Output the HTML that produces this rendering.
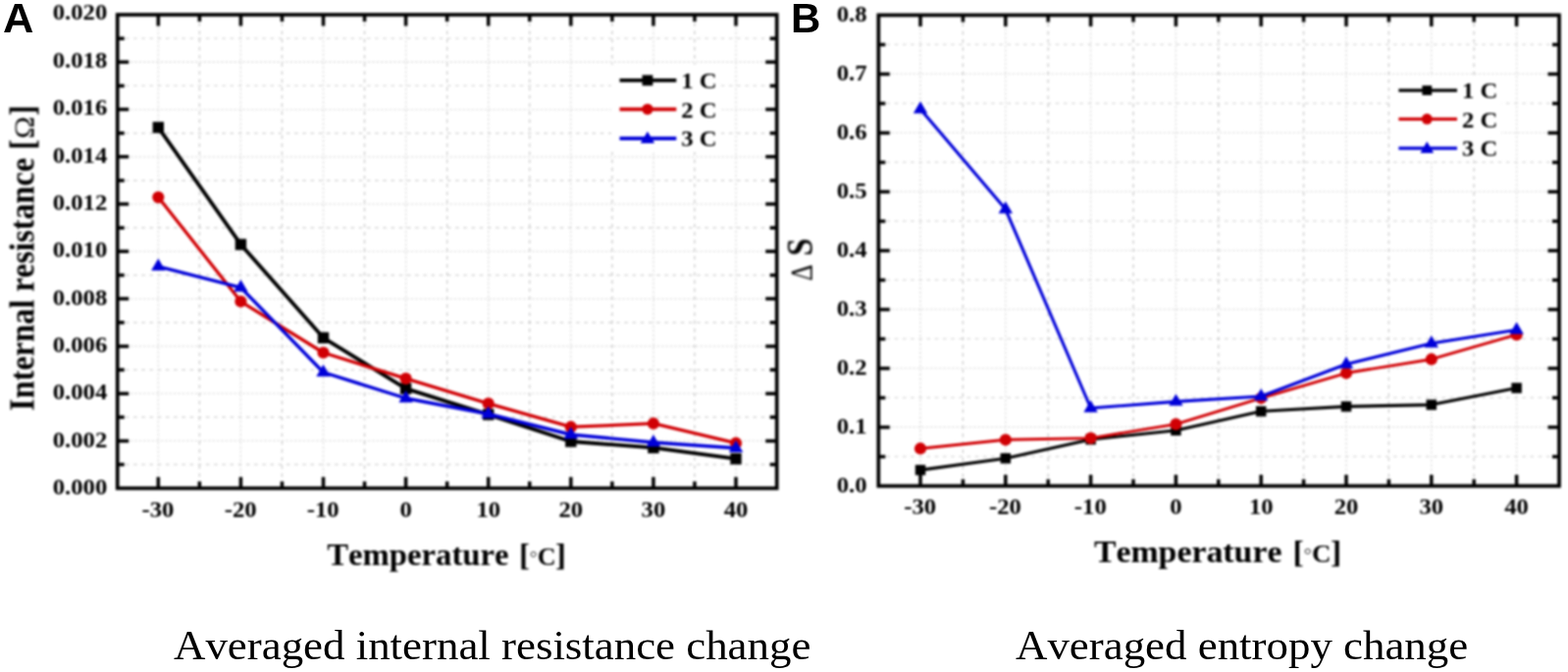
<!DOCTYPE html>
<html lang="en">
<head>
<meta charset="utf-8">
<title>Averaged internal resistance and entropy change</title>
<style>
html,body{margin:0;padding:0;background:#fff;}
body{width:1598px;height:685px;position:relative;overflow:hidden;}
#fig{position:absolute;left:0;top:0;width:1598px;height:685px;display:block;}
#plots{filter:blur(0.8px);}
.gmaj{fill:none;stroke:#dedede;stroke-width:1.3;stroke-dasharray:2.4 2;}
.gmin{fill:none;stroke:#d6d6d6;stroke-width:1.4;stroke-dasharray:3.6 4.6;}
.gminv{stroke:#cccccc;}
.tick{fill:none;stroke:#000;stroke-width:3.5;stroke-linecap:butt;}
.frame{fill:none;stroke:#000;stroke-width:3.7;}
.ln{fill:none;stroke-linejoin:round;stroke-linecap:butt;}
.lg{stroke-width:3.6;}
text{font-family:"Liberation Serif", serif;fill:#000;font-kerning:none;}
.t24{font-size:23.6px;font-weight:bold;}
.t32{font-size:32px;font-weight:bold;}
.panel{position:absolute;font-family:"Liberation Sans", sans-serif;font-weight:bold;font-size:41.8px;line-height:1;color:#000;margin:0;transform:scaleX(1.04);transform-origin:0 0;}
.cap{position:absolute;font-family:"Liberation Serif", serif;font-size:43px;line-height:1;color:#000;white-space:nowrap;margin:0;font-kerning:none;font-weight:normal;transform:scaleX(1.044);transform-origin:0 0;}
</style>
</head>
<body>
<svg id="fig" width="1598" height="685" viewBox="0 0 1598 685">
<rect width="1598" height="685" fill="#fff"/>
<g id="plots">
<g id="chartA">
<path class="gmaj" d="M161.3 15V497.7M245.4 15V497.7M329.5 15V497.7M413.6 15V497.7M497.7 15V497.7M581.8 15V497.7M665.9 15V497.7M750 15V497.7M119.7 449.43H791.7M119.7 401.16H791.7M119.7 352.89H791.7M119.7 304.62H791.7M119.7 256.35H791.7M119.7 208.08H791.7M119.7 159.81H791.7M119.7 111.54H791.7M119.7 63.27H791.7"/>
<path class="gmin" d="M119.7 473.56H791.7M119.7 425.29H791.7M119.7 377.02H791.7M119.7 328.75H791.7M119.7 280.49H791.7M119.7 232.22H791.7M119.7 183.94H791.7M119.7 135.68H791.7M119.7 87.41H791.7M119.7 39.14H791.7"/>
<path class="gmin gminv" d="M203.35 15V497.7M287.45 15V497.7M371.55 15V497.7M455.65 15V497.7M539.75 15V497.7M623.85 15V497.7M707.95 15V497.7"/>
<rect x="623" y="66" width="112" height="89" fill="#fff"/>
<path class="tick" d="M161.3 497.7v-11.5M161.3 15v11.5M203.35 497.7v-7M203.35 15v7M245.4 497.7v-11.5M245.4 15v11.5M287.45 497.7v-7M287.45 15v7M329.5 497.7v-11.5M329.5 15v11.5M371.55 497.7v-7M371.55 15v7M413.6 497.7v-11.5M413.6 15v11.5M455.65 497.7v-7M455.65 15v7M497.7 497.7v-11.5M497.7 15v11.5M539.75 497.7v-7M539.75 15v7M581.8 497.7v-11.5M581.8 15v11.5M623.85 497.7v-7M623.85 15v7M665.9 497.7v-11.5M665.9 15v11.5M707.95 497.7v-7M707.95 15v7M750 497.7v-11.5M750 15v11.5M119.7 473.56h7M791.7 473.56h-7M119.7 449.43h11.5M791.7 449.43h-11.5M119.7 425.29h7M791.7 425.29h-7M119.7 401.16h11.5M791.7 401.16h-11.5M119.7 377.02h7M791.7 377.02h-7M119.7 352.89h11.5M791.7 352.89h-11.5M119.7 328.75h7M791.7 328.75h-7M119.7 304.62h11.5M791.7 304.62h-11.5M119.7 280.49h7M791.7 280.49h-7M119.7 256.35h11.5M791.7 256.35h-11.5M119.7 232.22h7M791.7 232.22h-7M119.7 208.08h11.5M791.7 208.08h-11.5M119.7 183.94h7M791.7 183.94h-7M119.7 159.81h11.5M791.7 159.81h-11.5M119.7 135.68h7M791.7 135.68h-7M119.7 111.54h11.5M791.7 111.54h-11.5M119.7 87.41h7M791.7 87.41h-7M119.7 63.27h11.5M791.7 63.27h-11.5M119.7 39.14h7M791.7 39.14h-7"/>
<rect class="frame" x="119.7" y="15" width="672" height="482.7"/>
<polyline class="ln" stroke="#000000" stroke-width="3.8" points="161.3,129.9 245.4,249.2 329.5,344.3 413.6,396.1 497.7,422.6 581.8,450 665.9,456.4 750,467.7"/>
<rect x="155.6" y="124.2" width="11.4" height="11.4" fill="#000000"/>
<rect x="239.7" y="243.5" width="11.4" height="11.4" fill="#000000"/>
<rect x="323.8" y="338.6" width="11.4" height="11.4" fill="#000000"/>
<rect x="407.9" y="390.4" width="11.4" height="11.4" fill="#000000"/>
<rect x="492" y="416.9" width="11.4" height="11.4" fill="#000000"/>
<rect x="576.1" y="444.3" width="11.4" height="11.4" fill="#000000"/>
<rect x="660.2" y="450.7" width="11.4" height="11.4" fill="#000000"/>
<rect x="744.3" y="462" width="11.4" height="11.4" fill="#000000"/>
<polyline class="ln" stroke="#d00004" stroke-width="3.3" points="161.3,201.1 245.4,307.3 329.5,359.5 413.6,385.9 497.7,411.4 581.8,435.2 665.9,431.7 750,451.7"/>
<circle cx="161.3" cy="201.1" r="6.1" fill="#d00004"/>
<circle cx="245.4" cy="307.3" r="6.1" fill="#d00004"/>
<circle cx="329.5" cy="359.5" r="6.1" fill="#d00004"/>
<circle cx="413.6" cy="385.9" r="6.1" fill="#d00004"/>
<circle cx="497.7" cy="411.4" r="6.1" fill="#d00004"/>
<circle cx="581.8" cy="435.2" r="6.1" fill="#d00004"/>
<circle cx="665.9" cy="431.7" r="6.1" fill="#d00004"/>
<circle cx="750" cy="451.7" r="6.1" fill="#d00004"/>
<polyline class="ln" stroke="#0000d8" stroke-width="3.4" points="161.3,271.6 245.4,293.1 329.5,379.5 413.6,406 497.7,422 581.8,443 665.9,451 750,456.8"/>
<path d="M161.3 263.6L168.5 275.8L154.1 275.8Z" fill="#0000d8"/>
<path d="M245.4 285.1L252.6 297.3L238.2 297.3Z" fill="#0000d8"/>
<path d="M329.5 371.5L336.7 383.7L322.3 383.7Z" fill="#0000d8"/>
<path d="M413.6 398L420.8 410.2L406.4 410.2Z" fill="#0000d8"/>
<path d="M497.7 414L504.9 426.2L490.5 426.2Z" fill="#0000d8"/>
<path d="M581.8 435L589 447.2L574.6 447.2Z" fill="#0000d8"/>
<path d="M665.9 443L673.1 455.2L658.7 455.2Z" fill="#0000d8"/>
<path d="M750 448.8L757.2 461L742.8 461Z" fill="#0000d8"/>
<path class="ln" stroke="#000000" stroke-width="3.7" d="M631.5 81.9H689.3"/>
<rect x="654.49" y="76.48" width="10.83" height="10.83" fill="#000000"/>
<text class="t24" transform="translate(694.2 90.3) scale(1.045 1)">1 C</text>
<path class="ln" stroke="#d00004" stroke-width="3.7" d="M631.5 111.3H689.3"/>
<circle cx="659.9" cy="111.3" r="5.67" fill="#d00004"/>
<text class="t24" transform="translate(694.2 120) scale(1.045 1)">2 C</text>
<path class="ln" stroke="#0000d8" stroke-width="3.7" d="M631.5 141.1H689.3"/>
<path d="M659.9 133.9L667.1 146.1L652.7 146.1Z" fill="#0000d8"/>
<text class="t24" transform="translate(694.2 149.3) scale(1.045 1)">3 C</text>
<text class="t24" text-anchor="end" transform="translate(109.2 504.2) scale(1.045 1)">0.000</text>
<text class="t24" text-anchor="end" transform="translate(109.2 455.82) scale(1.045 1)">0.002</text>
<text class="t24" text-anchor="end" transform="translate(109.2 407.44) scale(1.045 1)">0.004</text>
<text class="t24" text-anchor="end" transform="translate(109.2 359.06) scale(1.045 1)">0.006</text>
<text class="t24" text-anchor="end" transform="translate(109.2 310.68) scale(1.045 1)">0.008</text>
<text class="t24" text-anchor="end" transform="translate(109.2 262.3) scale(1.045 1)">0.010</text>
<text class="t24" text-anchor="end" transform="translate(109.2 213.92) scale(1.045 1)">0.012</text>
<text class="t24" text-anchor="end" transform="translate(109.2 165.54) scale(1.045 1)">0.014</text>
<text class="t24" text-anchor="end" transform="translate(109.2 117.16) scale(1.045 1)">0.016</text>
<text class="t24" text-anchor="end" transform="translate(109.2 68.78) scale(1.045 1)">0.018</text>
<text class="t24" text-anchor="end" transform="translate(109.2 20.4) scale(1.045 1)">0.020</text>
<text class="t24" text-anchor="middle" transform="translate(161 526.5) scale(1.045 1)">-30</text>
<text class="t24" text-anchor="middle" transform="translate(245.1 526.5) scale(1.045 1)">-20</text>
<text class="t24" text-anchor="middle" transform="translate(329.2 526.5) scale(1.045 1)">-10</text>
<text class="t24" text-anchor="middle" transform="translate(413.6 526.5) scale(1.045 1)">0</text>
<text class="t24" text-anchor="middle" transform="translate(497.7 526.5) scale(1.045 1)">10</text>
<text class="t24" text-anchor="middle" transform="translate(581.8 526.5) scale(1.045 1)">20</text>
<text class="t24" text-anchor="middle" transform="translate(665.9 526.5) scale(1.045 1)">30</text>
<text class="t24" text-anchor="middle" transform="translate(750 526.5) scale(1.045 1)">40</text>
<text class="t32" text-anchor="middle" transform="translate(34.2 263) rotate(-90) scale(1.012 1.09)" x="0" y="0">Internal resistance [<tspan font-weight="normal" font-size="26.5" textLength="22.6" lengthAdjust="spacingAndGlyphs" dx="0.6">Ω</tspan><tspan dx="0.6">]</tspan></text>
<text class="t32" transform="translate(333.3 575.6) scale(1.022 1)">Temperature<tspan dx="2.2"> [</tspan><tspan font-weight="normal" font-size="19" fill="#333" dy="-1" dx="0">°</tspan><tspan font-size="25.5" dy="1" dx="0.2">C</tspan><tspan dx="-0.6">]</tspan></text>
</g>
<g id="chartB">
<path class="gmaj" d="M938 15.4V495.4M1024.8 15.4V495.4M1111.6 15.4V495.4M1198.4 15.4V495.4M1285.2 15.4V495.4M1372 15.4V495.4M1458.8 15.4V495.4M1545.6 15.4V495.4M895.3 435.4H1589M895.3 375.4H1589M895.3 315.4H1589M895.3 255.4H1589M895.3 195.4H1589M895.3 135.4H1589M895.3 75.4H1589"/>
<path class="gmin" d="M895.3 465.4H1589M895.3 405.4H1589M895.3 345.4H1589M895.3 285.4H1589M895.3 225.4H1589M895.3 165.4H1589M895.3 105.4H1589M895.3 45.4H1589"/>
<path class="gmin gminv" d="M981.4 15.4V495.4M1068.2 15.4V495.4M1155 15.4V495.4M1241.8 15.4V495.4M1328.6 15.4V495.4M1415.4 15.4V495.4M1502.2 15.4V495.4"/>
<rect x="1417.5" y="77.5" width="112.5" height="86" fill="#fff"/>
<path class="tick" d="M938 495.4v-11.5M938 15.4v11.5M981.4 495.4v-7M981.4 15.4v7M1024.8 495.4v-11.5M1024.8 15.4v11.5M1068.2 495.4v-7M1068.2 15.4v7M1111.6 495.4v-11.5M1111.6 15.4v11.5M1155 495.4v-7M1155 15.4v7M1198.4 495.4v-11.5M1198.4 15.4v11.5M1241.8 495.4v-7M1241.8 15.4v7M1285.2 495.4v-11.5M1285.2 15.4v11.5M1328.6 495.4v-7M1328.6 15.4v7M1372 495.4v-11.5M1372 15.4v11.5M1415.4 495.4v-7M1415.4 15.4v7M1458.8 495.4v-11.5M1458.8 15.4v11.5M1502.2 495.4v-7M1502.2 15.4v7M1545.6 495.4v-11.5M1545.6 15.4v11.5M895.3 465.4h7M1589 465.4h-7M895.3 435.4h11.5M1589 435.4h-11.5M895.3 405.4h7M1589 405.4h-7M895.3 375.4h11.5M1589 375.4h-11.5M895.3 345.4h7M1589 345.4h-7M895.3 315.4h11.5M1589 315.4h-11.5M895.3 285.4h7M1589 285.4h-7M895.3 255.4h11.5M1589 255.4h-11.5M895.3 225.4h7M1589 225.4h-7M895.3 195.4h11.5M1589 195.4h-11.5M895.3 165.4h7M1589 165.4h-7M895.3 135.4h11.5M1589 135.4h-11.5M895.3 105.4h7M1589 105.4h-7M895.3 75.4h11.5M1589 75.4h-11.5M895.3 45.4h7M1589 45.4h-7"/>
<rect class="frame" x="895.3" y="15.4" width="693.7" height="480"/>
<polyline class="ln" stroke="#000000" stroke-width="3.1" points="938,479.1 1024.8,467.2 1111.6,448 1198.4,438.7 1285.2,419.3 1372,414.4 1458.8,412.6 1545.6,395.5"/>
<rect x="932.76" y="473.86" width="10.49" height="10.49" fill="#000000"/>
<rect x="1019.56" y="461.96" width="10.49" height="10.49" fill="#000000"/>
<rect x="1106.36" y="442.76" width="10.49" height="10.49" fill="#000000"/>
<rect x="1193.16" y="433.46" width="10.49" height="10.49" fill="#000000"/>
<rect x="1279.96" y="414.06" width="10.49" height="10.49" fill="#000000"/>
<rect x="1366.76" y="409.16" width="10.49" height="10.49" fill="#000000"/>
<rect x="1453.56" y="407.36" width="10.49" height="10.49" fill="#000000"/>
<rect x="1540.36" y="390.26" width="10.49" height="10.49" fill="#000000"/>
<polyline class="ln" stroke="#d00004" stroke-width="2.9" points="938,457.2 1024.8,448.3 1111.6,446.6 1198.4,432.4 1285.2,405.8 1372,380.3 1458.8,366.2 1545.6,341.2"/>
<circle cx="938" cy="457.2" r="6.1" fill="#d00004"/>
<circle cx="1024.8" cy="448.3" r="6.1" fill="#d00004"/>
<circle cx="1111.6" cy="446.6" r="6.1" fill="#d00004"/>
<circle cx="1198.4" cy="432.4" r="6.1" fill="#d00004"/>
<circle cx="1285.2" cy="405.8" r="6.1" fill="#d00004"/>
<circle cx="1372" cy="380.3" r="6.1" fill="#d00004"/>
<circle cx="1458.8" cy="366.2" r="6.1" fill="#d00004"/>
<circle cx="1545.6" cy="341.2" r="6.1" fill="#d00004"/>
<polyline class="ln" stroke="#0000d8" stroke-width="3.1" points="938,111.3 1024.8,213.3 1111.6,416 1198.4,409.4 1285.2,404 1372,371.2 1458.8,350 1545.6,336.3"/>
<path d="M938 103.3L945.2 115.5L930.8 115.5Z" fill="#0000d8"/>
<path d="M1024.8 205.3L1032 217.5L1017.6 217.5Z" fill="#0000d8"/>
<path d="M1111.6 408L1118.8 420.2L1104.4 420.2Z" fill="#0000d8"/>
<path d="M1198.4 401.4L1205.6 413.6L1191.2 413.6Z" fill="#0000d8"/>
<path d="M1285.2 396L1292.4 408.2L1278 408.2Z" fill="#0000d8"/>
<path d="M1372 363.2L1379.2 375.4L1364.8 375.4Z" fill="#0000d8"/>
<path d="M1458.8 342L1466 354.2L1451.6 354.2Z" fill="#0000d8"/>
<path d="M1545.6 328.3L1552.8 340.5L1538.4 340.5Z" fill="#0000d8"/>
<path class="ln" stroke="#000000" stroke-width="3.2" d="M1425.4 92.1H1485"/>
<rect x="1449.4" y="87.2" width="9.8" height="9.8" fill="#000000"/>
<text class="t24" transform="translate(1490 100.3) scale(1.045 1)">1 C</text>
<path class="ln" stroke="#d00004" stroke-width="3.2" d="M1425.4 121.3H1485"/>
<circle cx="1454.3" cy="121.3" r="5.49" fill="#d00004"/>
<text class="t24" transform="translate(1490 129.7) scale(1.045 1)">2 C</text>
<path class="ln" stroke="#0000d8" stroke-width="3.2" d="M1425.4 151.1H1485"/>
<path d="M1454.3 144.3L1461.14 155.89L1447.46 155.89Z" fill="#0000d8"/>
<text class="t24" transform="translate(1490 159) scale(1.045 1)">3 C</text>
<text class="t24" text-anchor="end" transform="translate(883.6 502) scale(1.045 1)">0.0</text>
<text class="t24" text-anchor="end" transform="translate(883.6 442) scale(1.045 1)">0.1</text>
<text class="t24" text-anchor="end" transform="translate(883.6 382) scale(1.045 1)">0.2</text>
<text class="t24" text-anchor="end" transform="translate(883.6 322) scale(1.045 1)">0.3</text>
<text class="t24" text-anchor="end" transform="translate(883.6 262) scale(1.045 1)">0.4</text>
<text class="t24" text-anchor="end" transform="translate(883.6 202) scale(1.045 1)">0.5</text>
<text class="t24" text-anchor="end" transform="translate(883.6 142) scale(1.045 1)">0.6</text>
<text class="t24" text-anchor="end" transform="translate(883.6 82) scale(1.045 1)">0.7</text>
<text class="t24" text-anchor="end" transform="translate(883.6 22) scale(1.045 1)">0.8</text>
<text class="t24" text-anchor="middle" transform="translate(937.7 523.8) scale(1.045 1)">-30</text>
<text class="t24" text-anchor="middle" transform="translate(1024.5 523.8) scale(1.045 1)">-20</text>
<text class="t24" text-anchor="middle" transform="translate(1111.3 523.8) scale(1.045 1)">-10</text>
<text class="t24" text-anchor="middle" transform="translate(1198.4 523.8) scale(1.045 1)">0</text>
<text class="t24" text-anchor="middle" transform="translate(1285.2 523.8) scale(1.045 1)">10</text>
<text class="t24" text-anchor="middle" transform="translate(1372 523.8) scale(1.045 1)">20</text>
<text class="t24" text-anchor="middle" transform="translate(1458.8 523.8) scale(1.045 1)">30</text>
<text class="t24" text-anchor="middle" transform="translate(1545.6 523.8) scale(1.045 1)">40</text>
<text class="t32" transform="translate(827.3 286.3) rotate(-90) scale(1 1.18)"><tspan font-weight="normal" font-size="26">Δ</tspan><tspan dx="0.7"> S</tspan></text>
<text class="t32" transform="translate(1114.9 572.8) scale(1.057 1)">Temperature<tspan dx="2.6"> [</tspan><tspan font-weight="normal" font-size="19" fill="#333" dy="-1" dx="0">°</tspan><tspan font-size="25.5" dy="1" dx="0.2">C</tspan><tspan dx="-0.6">]</tspan></text>
</g>
</g>
</svg>
<h1 class="panel" style="left:2.6px;top:-1.8px;">A</h1>
<h1 class="panel" style="left:806px;top:-2px;transform:scaleX(1.005);">B</h1>
<p class="cap" id="capA" style="left:176.8px;top:635.5px;">Averaged internal resistance change</p>
<p class="cap" id="capB" style="left:1034.6px;top:635.5px;">Averaged entropy change</p>
</body>
</html>
